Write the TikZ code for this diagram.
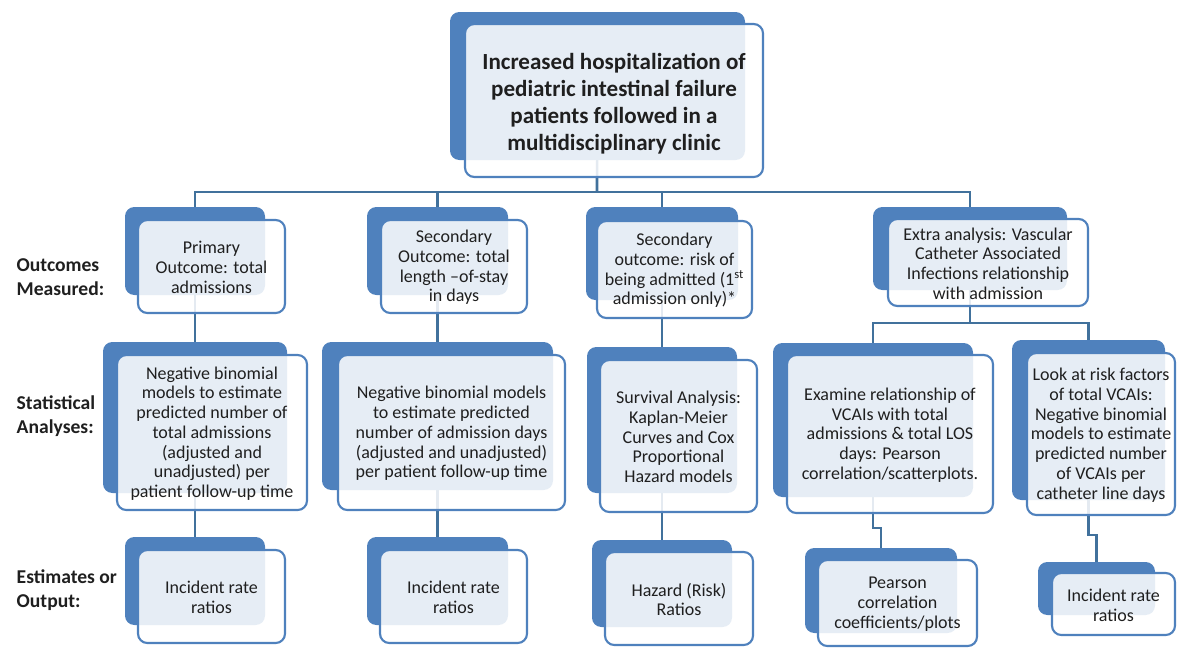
\documentclass[tikz,border=0pt]{standalone}
\usepackage{fontspec}
\setmainfont{Carlito}
\usetikzlibrary{fit,backgrounds}
\definecolor{tabblue}{HTML}{4F81BD}
\definecolor{linkblue}{HTML}{41719C}
\definecolor{inkgray}{HTML}{1F1F1F}

\begin{document}
\begin{tikzpicture}[x=0.75pt,y=-0.75pt,
  tabbox/.style={fill=tabblue,rounded corners=7pt,inner sep=0pt},
  facebox/.style={draw=tabblue,line width=1.6pt,fill=white,fill opacity=0.86,rounded corners=7pt,inner sep=0pt},
  boxtext/.style={align=center,text=inkgray,inner sep=0pt,yshift=-0.75pt,font=\fontsize{13.5}{14.8}\selectfont},
  titletext/.style={boxtext,yshift=-1.5pt,font=\fontsize{17.3}{20.2}\selectfont\bfseries},
  rowlabel/.style={anchor=west,align=left,text=inkgray,font=\fontsize{14.7}{17.5}\selectfont\bfseries},
  link/.style={draw=linkblue,line width=2pt}]
  \useasboundingbox (0,0) rectangle (1177,647);

  \node[tabbox,fit={(450,12)(745,160)}] (b0) {};
  \node[tabbox,fit={(125,207)(265,295)}] (b1) {};
  \node[tabbox,fit={(367,207)(508,295)}] (b2) {};
  \node[tabbox,fit={(586,207)(738,300)}] (b3) {};
  \node[tabbox,fit={(873,207)(1067,290)}] (b4) {};
  \node[tabbox,fit={(103,342)(287,493)}] (b5) {};
  \node[tabbox,fit={(322,342)(553,490)}] (b6) {};
  \node[tabbox,fit={(587,347)(737,493)}] (b7) {};
  \node[tabbox,fit={(773,343)(973,497)}] (b8) {};
  \node[tabbox,fit={(1012,340)(1165,500)}] (b9) {};
  \node[tabbox,fit={(125,537)(265,625)}] (b10) {};
  \node[tabbox,fit={(367,537)(508,625)}] (b11) {};
  \node[tabbox,fit={(592,540)(732,627)}] (b12) {};
  \node[tabbox,fit={(805,548)(957,633)}] (b13) {};
  \node[tabbox,fit={(1038,562)(1155,615)}] (b14) {};

  \node[facebox,fit={(465,24)(763,177)}] (f0) {};
  \node[facebox,fit={(138,220)(285,313)}] (f1) {};
  \node[facebox,fit={(381,220)(527,313)}] (f2) {};
  \node[facebox,fit={(597,221)(752,318)}] (f3) {};
  \node[facebox,fit={(888,219)(1088,306)}] (f4) {};
  \node[facebox,fit={(117,355)(307,510)}] (f5) {};
  \node[facebox,fit={(338,355)(565,510)}] (f6) {};
  \node[facebox,fit={(600,360)(757,512)}] (f7) {};
  \node[facebox,fit={(787,355)(993,513)}] (f8) {};
  \node[facebox,fit={(1027,353)(1175,515)}] (f9) {};
  \node[facebox,fit={(138,550)(285,643)}] (f10) {};
  \node[facebox,fit={(380,550)(527,643)}] (f11) {};
  \node[facebox,fit={(605,552)(753,645)}] (f12) {};
  \node[facebox,fit={(818,560)(977,646)}] (f13) {};
  \node[facebox,fit={(1052,573)(1175,635)}] (f14) {};

  \node[titletext] (t0) at (f0.center) {Increased hospitalization of\\pediatric intestinal failure\\patients followed in a\\multidisciplinary clinic};
  \node[boxtext] (t1) at (f1.center) {Primary\\Outcome: total\\admissions};
  \node[boxtext] (t2) at (f2.center) {Secondary\\Outcome: total\\length --of-stay\\in days};
  \node[boxtext] (t3) at (f3.center) {Secondary\\outcome: risk of\\being admitted (1\textsuperscript{st}\\admission only)*};
  \node[boxtext] (t4) at (f4.center) {Extra analysis: Vascular\\Catheter Associated\\Infections relationship\\with admission};
  \node[boxtext] (t5) at (f5.center) {Negative binomial\\models to estimate\\predicted number of\\total admissions\\(adjusted and\\unadjusted) per\\patient follow-up time};
  \node[boxtext] (t6) at (f6.center) {Negative binomial models\\to estimate predicted\\number of admission days\\(adjusted and unadjusted)\\per patient follow-up time};
  \node[boxtext] (t7) at (f7.center) {Survival Analysis:\\Kaplan-Meier\\Curves and Cox\\Proportional\\Hazard models};
  \node[boxtext] (t8) at (f8.center) {Examine relationship of\\VCAIs with total\\admissions \& total LOS\\days: Pearson\\correlation/scatterplots.};
  \node[boxtext] (t9) at (f9.center) {Look at risk factors\\of total VCAIs:\\Negative binomial\\models to estimate\\predicted number\\of VCAIs per\\catheter line days};
  \node[boxtext] (t10) at (f10.center) {Incident rate\\ratios};
  \node[boxtext] (t11) at (f11.center) {Incident rate\\ratios};
  \node[boxtext] (t12) at (f12.center) {Hazard (Risk)\\Ratios};
  \node[boxtext] (t13) at (f13.center) {Pearson\\correlation\\coefficients/plots};
  \node[boxtext] (t14) at (f14.center) {Incident rate\\ratios};

  \node[rowlabel] (lab1) at (12,277) {Outcomes\\Measured:};
  \node[rowlabel] (lab2) at (12,416) {Statistical\\Analyses:};
  \node[rowlabel] (lab3) at (12,590) {Estimates or\\Output:};

  \begin{scope}[on background layer]
    \coordinate (j0) at (597,192);
    \coordinate (j4) at (970,323);
    \coordinate (j8) at (877,528);
    \coordinate (j9) at (1092,535);
    \draw[link] (b0.center) -- (j0);
    \draw[link] (b1.center) |- (j0) -| (b4.center);
    \draw[link] (b2.center) -- (b2.center |- j0);
    \draw[link] (b3.center) -- (b3.center |- j0);
    \draw[link] (b1.center) -- (b5.center) -- (b10.center);
    \draw[link] (b2.center) -- (b6.center) -- (b11.center);
    \draw[link] (b3.center) -- (b7.center) -- (b12.center);
    \draw[link] (b4.center) -- (j4);
    \draw[link] (b8.center) |- (j4) -| (b9.center);
    \draw[link] (b8.center) |- (j8) -| (b13.center);
    \draw[link] (b9.center) |- (j9) -| (b14.center);
  \end{scope}
\end{tikzpicture}
\end{document}
